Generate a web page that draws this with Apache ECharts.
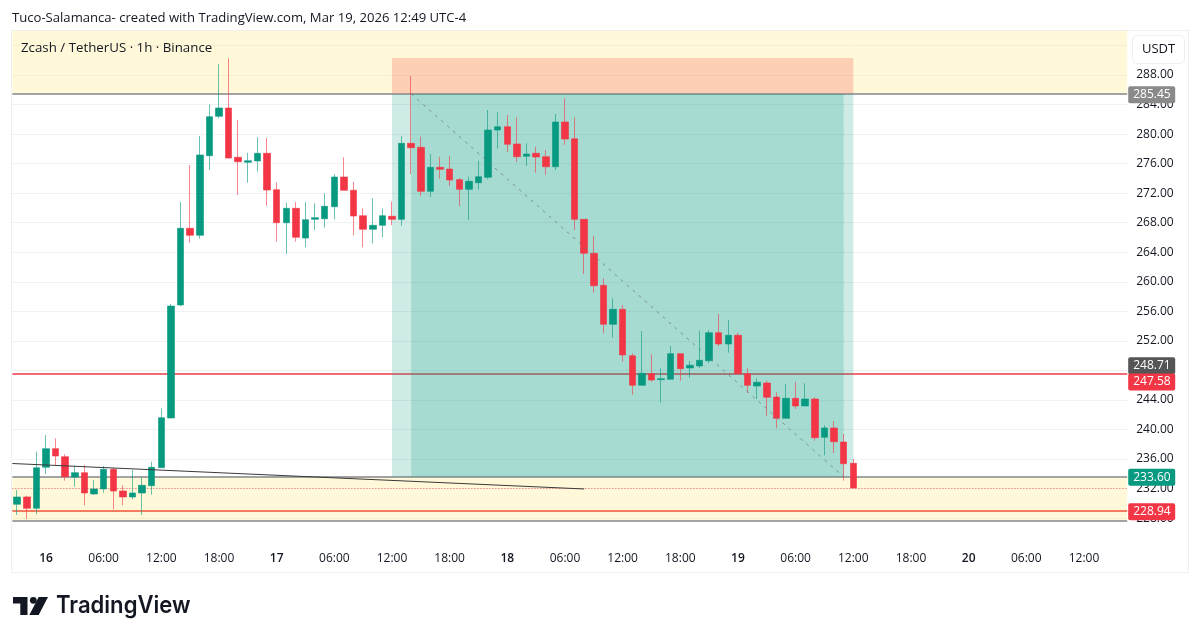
<!DOCTYPE html>
<html>
<head>
<meta charset="utf-8">
<style>html,body{margin:0;padding:0;background:#fff}#c{width:1200px;height:640px}</style>
<script src="https://cdn.jsdelivr.net/npm/echarts@6/dist/echarts.min.js"></script>
</head>
<body>
<div id="c"></div>
<script>
const timeLabels = ['','','','16','','','','','','06:00','','','','','','12:00','','','','','','18:00','','','','','','17','','','','','','06:00','','','','','','12:00','','','','','','18:00','','','','','','18','','','','','','06:00','','','','','','12:00','','','','','','18:00','','','','','','19','','','','','','06:00','','','','','','12:00','','','','','','18:00','','','','','','20','','','','','','06:00','','','','','','12:00','','','',''];
const opens = [229.88,230.87,229.33,234.89,237.41,236.32,233.57,234.16,231.27,231.95,234.61,231.68,230.87,231.41,232.40,234.83,241.56,256.86,267.24,266.30,277.07,282.41,283.53,276.86,276.18,276.36,277.40,272.47,268.00,269.95,265.93,268.46,268.54,270.17,274.19,272.39,268.95,267.11,267.65,268.87,268.46,278.75,278.21,272.25,275.50,275.27,273.83,272.52,273.42,274.15,280.55,281.00,278.66,276.99,277.40,276.94,275.58,281.64,279.37,268.46,263.86,259.53,254.25,256.28,249.99,245.99,247.56,246.75,246.80,250.27,248.33,248.60,249.32,253.11,251.58,252.76,247.56,245.89,246.30,244.40,241.52,244.23,243.19,244.13,238.95,240.21,238.31,235.43];
const closes = [230.87,229.33,234.83,237.41,236.42,233.61,234.16,231.41,231.95,234.61,231.68,230.87,231.41,232.45,234.89,241.60,256.72,267.24,266.30,277.17,282.35,283.53,276.76,276.26,276.40,277.40,272.43,268.00,269.95,266.03,268.41,268.68,270.22,274.19,272.39,268.91,267.11,267.65,268.95,268.46,278.75,278.16,272.25,275.50,275.23,273.78,272.52,273.61,274.23,280.55,281.00,278.62,276.94,277.30,276.90,275.58,281.64,279.33,268.46,263.86,259.47,254.25,256.28,250.09,245.99,247.61,246.70,246.88,250.27,248.24,248.70,249.37,253.11,251.58,252.76,247.56,245.99,246.40,244.37,241.52,244.23,243.19,244.13,238.89,240.21,238.35,235.37,232.08];
const lows = [228.43,227.89,228.52,233.98,235.20,233.07,232.26,229.74,231.18,231.45,229.20,229.74,230.55,228.43,231.18,234.83,241.56,256.72,265.30,265.84,275.14,282.14,276.72,271.75,273.42,274.91,270.30,265.43,263.77,265.43,264.67,267.01,267.33,268.46,272.39,266.30,264.67,265.21,266.03,267.69,267.60,274.60,271.66,271.48,273.96,272.97,270.26,268.37,272.52,273.88,278.02,277.58,276.22,275.68,274.77,274.50,275.14,278.56,267.01,261.06,258.53,253.03,252.43,249.18,244.71,245.99,246.48,243.63,246.80,246.61,247.02,248.33,248.97,251.31,250.40,247.56,244.99,244.13,241.83,240.17,241.52,242.78,243.19,238.49,236.51,236.82,233.07,232.08];
const highs = [231.81,231.04,237.00,239.26,238.81,236.65,235.10,235.20,233.17,235.06,234.83,232.45,234.52,233.53,235.64,242.87,257.00,270.81,275.81,279.74,284.03,289.49,290.26,281.91,277.48,279.57,279.47,273.47,270.71,270.81,270.81,270.63,271.98,274.56,276.86,273.55,269.95,271.31,269.95,270.85,279.74,287.86,279.65,277.30,276.94,277.03,274.06,274.23,276.40,283.26,282.95,282.58,282.27,278.75,278.29,277.85,282.72,284.85,282.27,268.50,266.20,260.47,257.77,256.86,250.32,253.34,250.19,248.29,251.31,250.27,249.28,253.38,253.47,255.64,254.83,253.11,248.29,246.94,246.61,245.04,246.16,246.44,246.26,244.36,240.57,241.15,239.39,236.01];

const zoneTop = 285.45, zoneMid = 233.60, zoneLow = 227.6;
const redLevelA = 247.58, redLevelB = 228.94, lastPrice = 232.08, boxTop = 290.3, markTag = 248.71;
const trend = [[-0.5, 235.4], [59, 231.95]];
const boxStart = 39, boxEnd = 87, innerStart = 41, innerEnd = 86;

const GREEN = '#089981', RED = '#f23645', FONT = '"Open Sans", sans-serif';
const candles = opens.map((o, i) => [o, closes[i], lows[i], highs[i]]);

function tag(val, bg, dy) {
  return { yAxis: val, lineStyle: { color: 'transparent', width: 0 },
    label: { show: true, position: 'end', distance: 1, formatter: val.toFixed(2), color: '#fff',
      backgroundColor: bg, borderRadius: 2, padding: [2, 4, 1, 5], width: 38, align: 'left',
      offset: [0, dy], fontFamily: FONT, fontSize: 12, lineHeight: 14 } };
}
function level(val, color, width, type) {
  return { yAxis: val, lineStyle: { color: color, width: width, type: type || 'solid', opacity: 1 } };
}
const markerBase = { silent: true, symbol: 'none', animation: false, label: { show: false } };

const chart = echarts.init(document.getElementById('c'), null, { renderer: 'canvas' });
chart.setOption({
  animation: false,
  backgroundColor: '#ffffff',
  grid: { left: 12.37, right: 72.8, top: 30.7, height: 517, containLabel: false },
  xAxis: [
    { type: 'category', data: timeLabels, boundaryGap: true,
      axisLine: { show: false }, axisTick: { show: false }, splitLine: { show: false },
      axisLabel: { interval: (i, v) => v !== '', margin: 5, color: '#131722', fontFamily: FONT, fontSize: 12,
        hideOverlap: false,
        formatter: v => v.indexOf(':') < 0 && v ? '{d|' + v + '}' : v,
        rich: { d: { fontWeight: 600, fontFamily: FONT, fontSize: 12, color: '#131722' } } } },
    { type: 'value', min: -0.5, max: 115.5, show: false, splitLine: { show: false } }
  ],
  yAxis: { type: 'value', position: 'right', min: 224, max: 294, interval: 4,
    axisLine: { show: false }, axisTick: { show: false },
    splitLine: { show: true, showMinLine: false, showMaxLine: false, lineStyle: { color: '#f0f1f3', width: 1 } },
    axisLabel: { margin: 9, padding: [2, 0, 0, 0], color: '#131722', fontFamily: FONT, fontSize: 12,
      formatter: v => (v === 224 || v === 292 || v === 294) ? '' : v.toFixed(2) } },
  series: [
    { name: 'zones', type: 'line', xAxisIndex: 1, data: [], z: 1,
      markArea: { silent: true, z: 1, itemStyle: { color: 'rgba(255,235,120,0.28)' }, data: [
        [{ yAxis: zoneTop }, { yAxis: 294 }],
        [{ yAxis: zoneLow }, { yAxis: zoneMid }] ] } },
    { name: 'levels', type: 'line', xAxisIndex: 1, data: [], z: 2,
      markLine: Object.assign({}, markerBase, { z: 2, data: [
        level(zoneTop, '#a3a3a3', 2), level(zoneMid, '#a3a3a3', 2), level(zoneLow, '#a3a3a3', 2),
        level(redLevelA, '#f46b76', 2), level(redLevelB, '#f47c60', 2),
        level(lastPrice, '#f0626e', 1, [1, 2]) ] }) },
    { name: 'position', type: 'line', xAxisIndex: 1, data: [], z: 3,
      markArea: { silent: true, z: 3, data: [
        [{ xAxis: boxStart, yAxis: boxTop, itemStyle: { color: 'rgba(248,112,102,0.3)' } }, { xAxis: boxEnd, yAxis: zoneTop }],
        [{ xAxis: boxStart, yAxis: zoneTop, itemStyle: { color: 'rgba(8,153,129,0.2)' } }, { xAxis: boxEnd, yAxis: zoneMid }],
        [{ xAxis: innerStart, yAxis: zoneTop, itemStyle: { color: 'rgba(8,153,129,0.2)' } }, { xAxis: innerEnd, yAxis: zoneMid }] ] } },
    { name: 'Zcash', type: 'candlestick', data: candles, barWidth: 7, z: 4,
      itemStyle: { color: GREEN, color0: RED, borderColor: 'rgba(8,153,129,0.6)', borderColor0: 'rgba(242,54,69,0.6)', borderWidth: 1 } },
    { name: 'drawings', type: 'line', xAxisIndex: 1, data: [], z: 5,
      markLine: Object.assign({}, markerBase, { z: 5, data: [
        [{ coord: [innerStart, zoneTop], lineStyle: { color: 'rgba(110,120,120,0.75)', width: 1, type: [3, 5] } }, { coord: [innerEnd, zoneMid] }],
        [{ coord: trend[0], lineStyle: { color: '#3a3a3a', width: 1, type: 'solid' } }, { coord: trend[1] }] ] }) },
    { name: 'tags', type: 'line', xAxisIndex: 1, data: [], z: 6, clip: false,
      markLine: Object.assign({}, markerBase, { z: 6, data: [
        tag(zoneTop, '#8a8a8a', 1), tag(markTag, '#555555', 0.5), tag(redLevelA, RED, 8.5), tag(zoneMid, GREEN, 0.5), tag(redLevelB, RED, 0.5) ] }) }
  ],
  graphic: [
    { type: 'rect', z: 0, silent: true, shape: { x: 11.5, y: 30.5, width: 1177, height: 542 }, style: { fill: 'none', stroke: '#eeeff1', lineWidth: 1 } },
    { type: 'text', z: 20, x: 12, y: 18, style: { text: 'Tuco-Salamanca- created with TradingView.com, Mar 19, 2026 12:49 UTC-4', font: '13.1px ' + FONT, fill: '#131722', textVerticalAlign: 'middle' } },
    { type: 'text', z: 20, x: 21, y: 48, style: { text: 'Zcash / TetherUS · 1h · Binance', font: '13.3px ' + FONT, fill: '#131722', textVerticalAlign: 'middle' } },
    { type: 'rect', z: 20, shape: { x: 1132.5, y: 35.5, width: 52, height: 28, r: 5 }, style: { fill: '#fff', stroke: '#eceef1', lineWidth: 1 } },
    { type: 'text', z: 21, x: 1158.5, y: 49.5, style: { text: 'USDT', font: '13px ' + FONT, fill: '#131722', textAlign: 'center', textVerticalAlign: 'middle' } },
    { type: 'polygon', z: 20, shape: { points: [[13,597],[27.5,597],[27.5,615],[20.3,615],[20.3,603.6],[13,603.6]] }, style: { fill: '#131722' } },
    { type: 'circle', z: 20, shape: { cx: 33.3, cy: 600.3, r: 3.4 }, style: { fill: '#131722' } },
    { type: 'polygon', z: 20, shape: { points: [[38.7,597],[48,597],[38.7,615],[29.3,615]] }, style: { fill: '#131722' } },
    { type: 'text', z: 20, x: 56, y: 606, scaleX: 0.92, style: { text: 'TradingView', font: '600 24px Inter, sans-serif', fill: '#131722', textVerticalAlign: 'middle' } }
  ]
});
</script>
</body>
</html>
